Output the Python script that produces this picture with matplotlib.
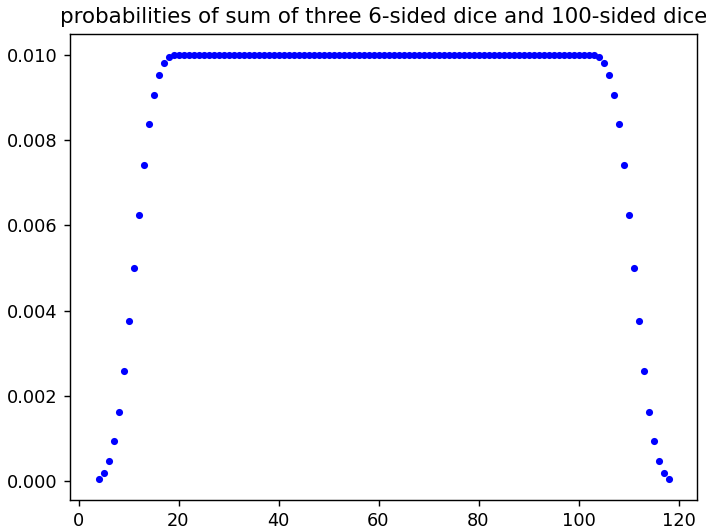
import matplotlib
matplotlib.use("Agg")
import matplotlib.pyplot as plt

# sums of three 6-sided dice plus one 100-sided die
sums = list(range(4, 119))

rise = [0.000046, 0.000185, 0.000463, 0.000926, 0.00162, 0.00259, 0.00375,
        0.00500, 0.00625, 0.00741, 0.00838, 0.00907, 0.00954, 0.00981, 0.00995]
plateau = [0.0100, 0.0100, 0.0100, 0.0100, 0.0100, 0.0100, 0.0100, 0.0100, 0.0100, 0.0100,
           0.0100, 0.0100, 0.0100, 0.0100, 0.0100, 0.0100, 0.0100, 0.0100, 0.0100, 0.0100,
           0.0100, 0.0100, 0.0100, 0.0100, 0.0100, 0.0100, 0.0100, 0.0100, 0.0100, 0.0100,
           0.0100, 0.0100, 0.0100, 0.0100, 0.0100, 0.0100, 0.0100, 0.0100, 0.0100, 0.0100,
           0.0100, 0.0100, 0.0100, 0.0100, 0.0100, 0.0100, 0.0100, 0.0100, 0.0100, 0.0100,
           0.0100, 0.0100, 0.0100, 0.0100, 0.0100, 0.0100, 0.0100, 0.0100, 0.0100, 0.0100,
           0.0100, 0.0100, 0.0100, 0.0100, 0.0100, 0.0100, 0.0100, 0.0100, 0.0100, 0.0100,
           0.0100, 0.0100, 0.0100, 0.0100, 0.0100, 0.0100, 0.0100, 0.0100, 0.0100, 0.0100,
           0.0100, 0.0100, 0.0100, 0.0100, 0.0100]
fall = [0.00995, 0.00981, 0.00954, 0.00907, 0.00838, 0.00741, 0.00625, 0.00500,
        0.00375, 0.00259, 0.00162, 0.000926, 0.000463, 0.000185, 0.000046]
probs = rise + plateau + fall

dpi = 128
fig = plt.figure(figsize=(706 / dpi, 530 / dpi), dpi=dpi)
fig.subplots_adjust(left=70 / 706, right=697 / 706, top=1 - 34 / 530, bottom=1 - 500 / 530)
ax = fig.add_subplot(111)
ax.plot(sums, probs, "b.")
ax.set_title("probabilities of sum of three 6-sided dice and 100-sided dice")
fig.savefig("out.png", dpi=dpi)
